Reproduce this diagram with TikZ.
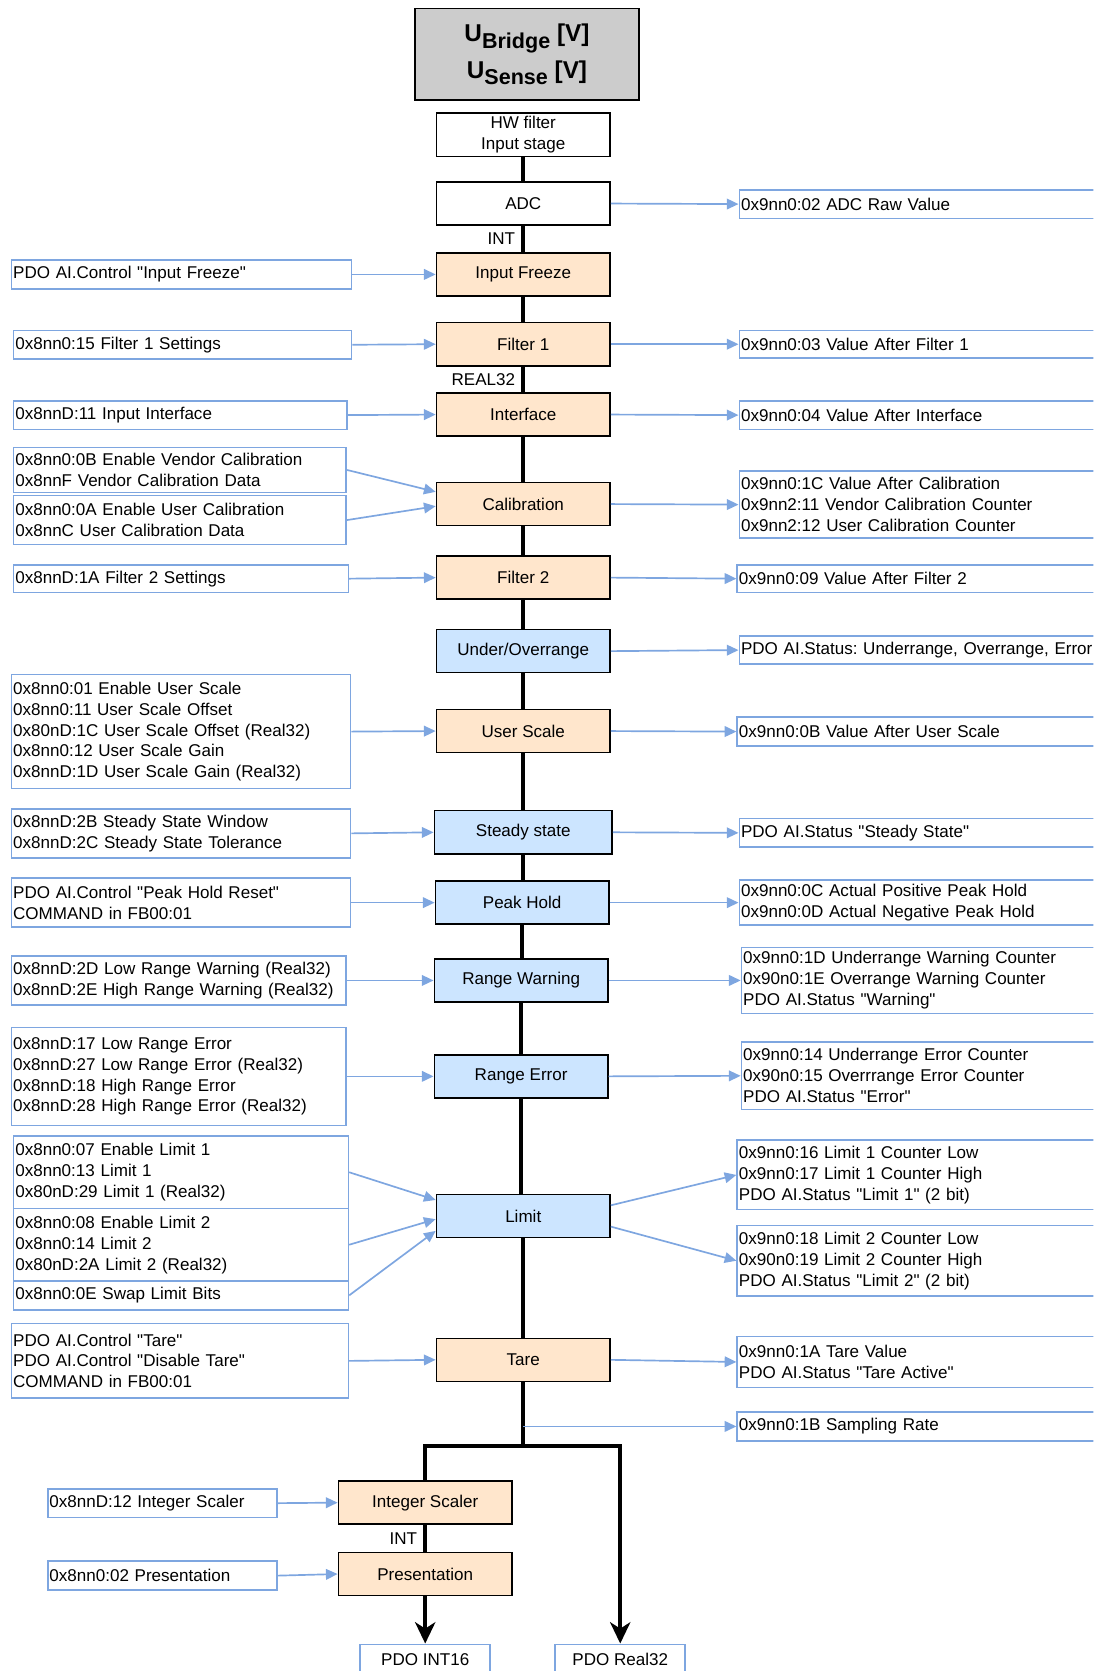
\documentclass[tikz,border=0pt]{standalone}
\usepackage{fontspec}
\setmainfont{Liberation Sans}
\usetikzlibrary{arrows.meta, calc}

\definecolor{lblue}{HTML}{7EA6E0}
\definecolor{procor}{HTML}{FFE6CC}
\definecolor{chkblue}{HTML}{CCE5FF}
\definecolor{srcgray}{HTML}{CCCCCC}
\newcommand{\blkfont}{\fontsize{9.1}{11.2}\selectfont\frenchspacing}
\newcommand{\lowsub}[1]{\raisebox{-3.5pt}{\fontsize{11.5}{11.5}\selectfont #1}}
\newcommand{\qtd}[1]{\textquotedbl #1\textquotedbl}

\begin{document}
\begin{tikzpicture}[x=0.02cm, y=-0.02cm, font=\blkfont,
    blk/.style={draw, line width=0.8pt, minimum width=3.26cm, minimum height=0.81cm, align=center},
    proc/.style={blk, fill=procor},
    chk/.style={blk, fill=chkblue},
    parbox/.style 2 args={draw=lblue, line width=0.9pt, fill=white, anchor=west, align=left,
        inner xsep=0.9pt, inner ysep=0pt, text width=#1, minimum height=#2},
    outbox/.style={parbox={6.9cm}{#1}},
    pdo/.style={draw=lblue, line width=0.9pt, fill=white, minimum width=2.44cm, minimum height=0.56cm},
    spine/.style={line width=2.1pt},
    link/.style={draw=lblue, line width=0.9pt, -{Triangle[length=0.22cm, width=0.2cm]}},
    bigtip/.style={-{Stealth[length=0.4cm, width=0.38cm, inset=0.12cm]}}
  ]
  \useasboundingbox (0,0) rectangle (1026,1568);
  \clip (0,0) rectangle (1026,1568);

  %% source
  \node[draw, line width=1pt, fill=srcgray, minimum width=4.22cm, minimum height=1.72cm, align=center,
        font=\fontsize{13}{19.5}\selectfont\bfseries] (src) at (494.5,51)
        {U\lowsub{Bridge} [V]\\U\lowsub{Sense} [V]};

  %% main chain
  \node[blk, inner ysep=1pt] (hw) at (491,126.5) {HW filter\\Input stage};
  \node[blk] (adc) at (491,191) {ADC};
  \node[proc] (frz) at (491,257.5) {Input Freeze};
  \node[proc] (flt1) at (491,323) {Filter 1};
  \node[proc] (intf) at (491,389) {Interface};
  \node[proc] (cal) at (491,473) {Calibration};
  \node[proc] (flt2) at (491,542) {Filter 2};
  \node[chk] (uor) at (491,611) {Under/Overrange};
  \node[proc] (usc) at (491,686) {User Scale};
  \node[chk, minimum width=3.34cm] (sst) at (491,781) {Steady state};
  \node[chk] (phd) at (490,847) {Peak Hold};
  \node[chk] (rwn) at (489,920) {Range Warning};
  \node[chk] (rer) at (489,1010) {Range Error};
  \node[chk] (lim) at (491,1141) {Limit};
  \node[proc] (tare) at (491,1276) {Tare};
  \node[proc] (isc) at (399,1410) {Integer Scaler};
  \node[proc] (pres) at (399,1477) {Presentation};
  \node[pdo] (int16) at (399,1557) {PDO INT16};
  \node[pdo] (r32) at (582,1557) {PDO Real32};

  \foreach \a/\b in {hw/adc, frz/flt1, intf/cal, cal/flt2, flt2/uor, uor/usc, usc/sst,
                     sst/phd, phd/rwn, rwn/rer, rer/lim, lim/tare}
    \draw[spine] (\a.south) -- (\a.south |- \b.north);
  \draw[spine] (adc.south) -- node[left]{INT} (adc.south |- frz.north);
  \draw[spine] (flt1.south) -- node[left]{REAL32} (flt1.south |- intf.north);

  %% split into INT16 / Real32
  \coordinate (spl) at (491,1357);
  \draw[spine] (tare.south) -- (spl);
  \draw[spine, bigtip] (isc.north) |- (spl) -| (r32.north);
  \draw[spine] (isc.south) -- node[left]{INT} (pres.north);
  \draw[spine, bigtip] (pres.south) -- (int16.north);

  %% parameters (left)
  \node[parbox={6.32cm}{0.54cm}] (ifz) at (10,257.5) {PDO AI.Control \qtd{Input Freeze}};
  \node[parbox={6.28cm}{0.54cm}] (f1s) at (12,323.5) {0x8nn0:15 Filter 1 Settings};
  \node[parbox={6.20cm}{0.54cm}] (iis) at (12,389.5) {0x8nnD:11 Input Interface};
  \node[parbox={6.18cm}{0.84cm}] (vcal) at (12,441) {0x8nn0:0B Enable Vendor Calibration\\0x8nnF Vendor Calibration Data};
  \node[parbox={6.18cm}{0.92cm}] (ucal) at (12,488) {0x8nn0:0A Enable User Calibration\\0x8nnC User Calibration Data};
  \node[parbox={6.22cm}{0.52cm}] (f2s) at (12,543) {0x8nnD:1A Filter 2 Settings};
  \node[parbox={6.30cm}{2.14cm}] (uss) at (10,686.5) {0x8nn0:01 Enable User Scale\\0x8nn0:11 User Scale Offset\\0x80nD:1C User Scale Offset (Real32)\\0x8nn0:12 User Scale Gain\\0x8nnD:1D User Scale Gain (Real32)};
  \node[parbox={6.30cm}{0.92cm}] (sss) at (10,782) {0x8nnD:2B Steady State Window\\0x8nnD:2C Steady State Tolerance};
  \node[parbox={6.30cm}{0.92cm}] (phr) at (10,847) {PDO AI.Control \qtd{Peak Hold Reset}\\COMMAND in FB00:01};
  \node[parbox={6.22cm}{0.92cm}] (rws) at (10,920) {0x8nnD:2D Low Range Warning (Real32)\\0x8nnD:2E High Range Warning (Real32)};
  \node[parbox={6.22cm}{1.84cm}] (res) at (10,1010) {0x8nnD:17 Low Range Error\\0x8nnD:27 Low Range Error (Real32)\\0x8nnD:18 High Range Error\\0x8nnD:28 High Range Error (Real32)};
  \node[parbox={6.22cm}{1.36cm}] (l1s) at (12,1100) {0x8nn0:07 Enable Limit 1\\0x8nn0:13 Limit 1\\0x80nD:29 Limit 1 (Real32)};
  \node[parbox={6.22cm}{1.36cm}] (l2s) at (12,1168) {0x8nn0:08 Enable Limit 2\\0x8nn0:14 Limit 2\\0x80nD:2A Limit 2 (Real32)};
  \node[parbox={6.22cm}{0.54cm}] (swp) at (12,1215.5) {0x8nn0:0E Swap Limit Bits};
  \node[parbox={6.26cm}{1.40cm}] (tps) at (10,1277) {PDO AI.Control \qtd{Tare}\\PDO AI.Control \qtd{Disable Tare}\\COMMAND in FB00:01};
  \node[parbox={4.24cm}{0.54cm}] (iss) at (44,1410.5) {0x8nnD:12 Integer Scaler};
  \node[parbox={4.24cm}{0.54cm}] (prs) at (44,1478.5) {0x8nn0:02 Presentation};

  %% values (right)
  \node[outbox=0.54cm] (adcr) at (693,191.5) {0x9nn0:02 ADC Raw Value};
  \node[outbox=0.52cm] (vf1) at (693,323) {0x9nn0:03 Value After Filter 1};
  \node[outbox=0.54cm] (vif) at (693,389.5) {0x9nn0:04 Value After Interface};
  \node[outbox=1.26cm] (vcl) at (693,473.5) {0x9nn0:1C Value After Calibration\\0x9nn2:11 Vendor Calibration Counter\\0x9nn2:12 User Calibration Counter};
  \node[outbox=0.52cm] (vf2) at (691,543) {0x9nn0:09 Value After Filter 2};
  \node[outbox=0.52cm] (uost) at (693,610) {PDO AI.Status: Underrange, Overrange, Error};
  \node[outbox=0.54cm] (vus) at (691,686.5) {0x9nn0:0B Value After User Scale};
  \node[outbox=0.54cm] (sts) at (693,781.5) {PDO AI.Status \qtd{Steady State}};
  \node[outbox=0.84cm] (phv) at (693,847) {0x9nn0:0C Actual Positive Peak Hold\\0x9nn0:0D Actual Negative Peak Hold};
  \node[outbox=1.24cm] (rwc) at (695,920) {0x9nn0:1D Underrange Warning Counter\\0x90n0:1E Overrange Warning Counter\\PDO AI.Status \qtd{Warning}};
  \node[outbox=1.26cm] (rec) at (695,1009.5) {0x9nn0:14 Underrange Error Counter\\0x90n0:15 Overrrange Error Counter\\PDO AI.Status \qtd{Error}};
  \node[outbox=1.30cm] (l1c) at (691,1102.5) {0x9nn0:16 Limit 1 Counter Low\\0x9nn0:17 Limit 1 Counter High\\PDO AI.Status \qtd{Limit 1} (2 bit)};
  \node[outbox=1.32cm] (l2c) at (691,1183) {0x9nn0:18 Limit 2 Counter Low\\0x90n0:19 Limit 2 Counter High\\PDO AI.Status \qtd{Limit 2} (2 bit)};
  \node[outbox=0.96cm] (tv) at (691,1278) {0x9nn0:1A Tare Value\\PDO AI.Status \qtd{Tare Active}};
  \node[outbox=0.54cm] (smr) at (691,1338.5) {0x9nn0:1B Sampling Rate};

  %% inputs
  \draw[link] (ifz.east) -- (frz.west);
  \draw[link] (f1s.east) -- (flt1.west);
  \draw[link] (iis.east) -- (intf.west);
  \draw[link] (vcal.east) -- ([yshift=0.23cm]cal.west);
  \draw[link] (ucal.east) -- ([yshift=-0.04cm]cal.west);
  \draw[link] (f2s.east) -- (flt2.west);
  \draw[link] (uss.east) -- (usc.west);
  \draw[link] (sss.east) -- (sst.west);
  \draw[link] (phr.east) -- (phd.west);
  \draw[link] (rws.east) -- (rwn.west);
  \draw[link] (res.east) -- (rer.west);
  \draw[link] (l1s.east) -- ([yshift=0.3cm]lim.west);
  \draw[link] (l2s.east) -- ([yshift=-0.06cm]lim.west);
  \draw[link] (swp.east) -- ([yshift=-0.28cm]lim.west);
  \draw[link] (tps.east) -- (tare.west);
  \draw[link] (iss.east) -- (isc.west);
  \draw[link] (prs.east) -- (pres.west);

  %% outputs
  \draw[link] (adc.east) -- (adcr.west);
  \draw[link] (flt1.east) -- (vf1.west);
  \draw[link] (intf.east) -- (vif.west);
  \draw[link] (cal.east) -- (vcl.west);
  \draw[link] (flt2.east) -- (vf2.west);
  \draw[link] (uor.east) -- (uost.west);
  \draw[link] (usc.east) -- (vus.west);
  \draw[link] (sst.east) -- (sts.west);
  \draw[link] (phd.east) -- (phv.west);
  \draw[link] (rwn.east) -- (rwc.west);
  \draw[link] (rer.east) -- (rec.west);
  \draw[link] ([yshift=0.2cm]lim.east) -- (l1c.west);
  \draw[link] ([yshift=-0.2cm]lim.east) -- (l2c.west);
  \draw[link] (tare.east) -- (tv.west);
  \coordinate (tap) at (tare.south |- smr.west);
  \draw[link] (tap) -- (smr.west);
\end{tikzpicture}
\end{document}
